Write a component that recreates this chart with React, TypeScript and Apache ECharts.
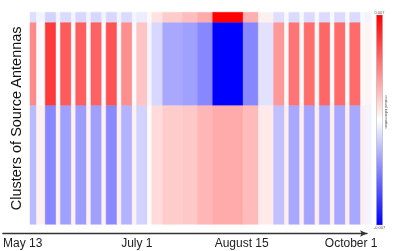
import React, { useEffect, useRef } from "react";
import * as echarts from "echarts";

// Length in days of each consecutive column block (weekday runs and weekend gaps)
const segmentDays = [
  3, 4, 5, 2, 5, 2, 5, 2, 5, 2, 5, 2, 5, 2, 5, 2, 5, 9, 7, 7, 14, 7, 7,
  5, 2, 5, 2, 5, 2, 5, 2, 5, 2, 5, 2, 3,
];

// Number of source antennas in each cluster, top to bottom
const clusterSizes = [5, 40, 57];

// Mutual information per block, one array per cluster
const clusterA = [
  -0.0009, -0.0003, -0.0012, -0.0003, -0.001, -0.0003, -0.0011, -0.0003, -0.0011, -0.0003,
  -0.0011, -0.0003, -0.001, -0.0003, -0.0005, 0.0002, 0.0008, 0.0014, 0.0018, 0.0023,
  0.007, 0.0022, 0.0004, -0.0009, -0.0002, -0.001, -0.0002, -0.001, -0.0002, -0.001,
  -0.0002, -0.001, -0.0002, -0.001, -0.0002, -0.0003,
];
const clusterB = [
  0.0032, -0.0001, 0.0054, -0.0001, 0.0045, -0.0001, 0.0044, -0.0001, 0.0043, -0.0001,
  0.0047, -0.0001, 0.0031, -0.0001, 0.0016, -0.0003, -0.0011, -0.0024, -0.0026, -0.0033,
  -0.007, -0.0033, -0.0008, 0.0028, 0.0002, 0.0038, 0.0002, 0.004, 0.0002, 0.0042,
  0.0002, 0.0041, 0.0002, 0.0041, 0.0002, 0.0003,
];
const clusterC = [
  -0.0019, 0.0004, -0.0033, 0.0004, -0.0026, 0.0004, -0.0027, 0.0004, -0.0026, 0.0004,
  -0.0032, 0.0004, -0.0021, 0.0004, -0.0012, 0.0001, 0.001, 0.0014, 0.0015, 0.002,
  0.0023, 0.0019, 0.0006, -0.0017, 0.0005, -0.0024, 0.0005, -0.0025, 0.0005, -0.0024,
  0.0005, -0.0024, 0.0005, -0.0024, 0.0005, -0.0003,
];

// Date labels, with their offsets in days from May 13
const tickLabels = ["May 13", "July 1", "August 15", "October 1"];
const tickDays = [0, 49, 94, 141];

const colorRange = [-0.007, 0.007];
const rampColors = ["#0000ff", "#ffffff", "#ff0000"];

export default function App() {
  const ref = useRef<HTMLDivElement>(null);

  useEffect(() => {
    if (!ref.current) return;
    const chart = echarts.init(ref.current, undefined, { renderer: "svg" });

    const clusters = [clusterA, clusterB, clusterC];
    const cells: number[][] = [];
    let rowStart = 0;
    clusters.forEach((vals, r) => {
      const rowEnd = rowStart + clusterSizes[r];
      let dayStart = 0;
      segmentDays.forEach((len, i) => {
        cells.push([dayStart, dayStart + len, rowStart, rowEnd, vals[i]]);
        dayStart += len;
      });
      rowStart = rowEnd;
    });
    const totalDays = segmentDays.reduce((a, b) => a + b, 0);
    const totalAntennas = clusterSizes.reduce((a, b) => a + b, 0);

    // colour bar beside the heat map
    const barX = 376.5;
    const barTop = 15;
    const barW = 6;
    const barH = 210;

    chart.setOption({
      animation: false,
      grid: [
        { left: 22.3, top: 12.3, width: 349.2, height: 212 },
        { left: 0, top: 232.5, width: 367, height: 1 },
      ],
      xAxis: [
        { type: "value", gridIndex: 0, min: 0, max: totalDays, show: false },
        {
          type: "value",
          gridIndex: 1,
          min: -8.52,
          max: 147.8,
          axisLine: {
            show: true,
            symbol: ["none", "arrow"],
            symbolSize: [5, 7],
            lineStyle: { color: "#333", width: 1.3 },
          },
          axisTick: { show: false },
          splitLine: { show: false },
          axisLabel: {
            customValues: tickDays,
            formatter: (v: number) => tickLabels[tickDays.indexOf(Math.round(v))] ?? "",
            margin: 3,
            fontSize: 12,
            color: "#222",
            fontFamily: "Liberation Sans",
          },
        },
      ],
      yAxis: [
        {
          type: "value",
          gridIndex: 0,
          min: 0,
          max: totalAntennas,
          inverse: true,
          axisLine: { show: false },
          axisTick: { show: false },
          axisLabel: { show: false },
          splitLine: { show: false },
          name: "Clusters of Source Antennas",
          nameLocation: "middle",
          nameGap: 7,
          nameTextStyle: { fontSize: 14.5, color: "#111", fontFamily: "Liberation Sans" },
        },
        { type: "value", gridIndex: 1, show: false },
      ],
      visualMap: {
        type: "continuous",
        show: false,
        seriesIndex: 0,
        dimension: 4,
        min: colorRange[0],
        max: colorRange[1],
        inRange: { color: rampColors },
      },
      graphic: [
        {
          type: "rect",
          shape: { x: barX, y: barTop, width: barW, height: barH },
          style: {
            fill: new echarts.graphic.LinearGradient(0, 0, 0, 1, [
              { offset: 0, color: rampColors[2] },
              { offset: 0.5, color: rampColors[1] },
              { offset: 1, color: rampColors[0] },
            ]),
            stroke: "#999",
            lineWidth: 0.4,
          },
        },
        {
          type: "text",
          x: barX + barW / 2,
          y: barTop - 0.5,
          style: {
            text: String(colorRange[1]),
            fontSize: 4,
            fill: "#555",
            align: "center",
            verticalAlign: "bottom",
          },
        },
        {
          type: "text",
          x: barX + barW / 2,
          y: barTop + barH + 0.5,
          style: {
            text: String(colorRange[0]),
            fontSize: 4,
            fill: "#555",
            align: "center",
            verticalAlign: "top",
          },
        },
        {
          type: "text",
          x: 386,
          y: 112,
          rotation: -Math.PI / 2,
          style: {
            text: "mutual information",
            fontSize: 4,
            fill: "#555",
            align: "center",
            verticalAlign: "middle",
          },
        },
      ],
      series: [
        {
          type: "custom",
          xAxisIndex: 0,
          yAxisIndex: 0,
          data: cells,
          renderItem: (params: any, api: any) => {
            const p0 = api.coord([api.value(0), api.value(2)]);
            const p1 = api.coord([api.value(1), api.value(3)]);
            const color = api.visual("color");
            return {
              type: "rect",
              shape: {
                x: p0[0],
                y: Math.min(p0[1], p1[1]),
                width: p1[0] - p0[0],
                height: Math.abs(p1[1] - p0[1]),
              },
              style: { fill: color, stroke: color, lineWidth: 0.5 },
            };
          },
        },
      ],
    });

    return () => chart.dispose();
  }, []);

  return (
    <div
      ref={ref}
      style={{ position: "fixed", left: 0, top: 0, width: 393, height: 251 }}
    />
  );
}
